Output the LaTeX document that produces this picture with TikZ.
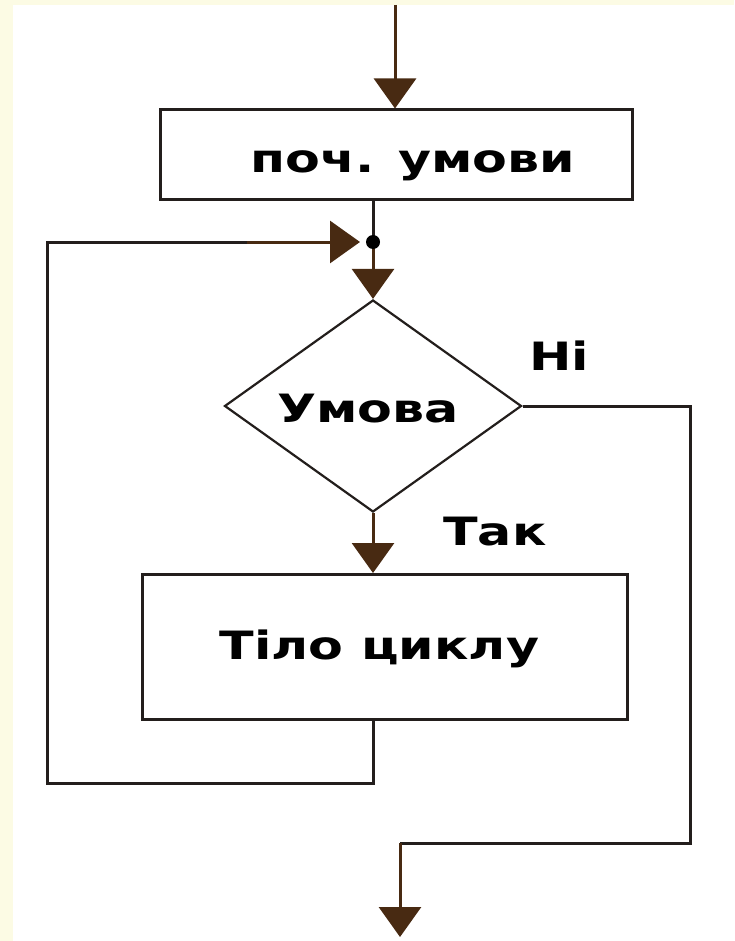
\documentclass[tikz,border=0pt]{standalone}
\usepackage{fontspec}
\newfontfamily\figfont[FakeStretch=1.3]{DejaVu Sans}
\usetikzlibrary{arrows.meta,positioning,shapes.geometric,calc}
\definecolor{figedge}{RGB}{35,30,28}
\definecolor{figarrow}{RGB}{72,42,18}
\definecolor{figpaper}{RGB}{252,251,228}

\begin{document}
\begin{tikzpicture}[x=1pt, y=-1pt,
  font=\figfont\fontsize{39}{44}\selectfont\bfseries,
  box/.style={draw=figedge, line width=3pt, minimum width=472pt,
    minimum height=90pt, inner sep=0pt, text depth=0pt},
  cond/.style={diamond, draw=figedge, line width=2.2pt, aspect=1.43,
    minimum width=297pt, minimum height=212pt, inner sep=0pt},
  lbl/.style={anchor=base, inner sep=0pt},
  arr/.style={-{Triangle[width=42pt,length=30pt]}, figarrow, line width=3pt},
  wire/.style={figedge, line width=3pt}]
  % page and paper strips
  \fill[white] (0,0) rectangle (734,941);
  \fill[figpaper] (0,0) rectangle (734,5);
  \fill[figpaper] (0,0) rectangle (13,941);
  \useasboundingbox (0,0) rectangle (734,941);

  \coordinate (in) at (395,5);
  \node[box, text height=36pt] (init) at (396,155) {\hspace*{34pt}поч. умови};
  \coordinate (join) at (373,242);
  \node[cond] (test) at (373,406) {};
  \node[lbl] (testlbl) at (368,422) {Умова};
  \node[box, minimum width=485pt, minimum height=145pt, text height=25pt]
    (body) at (385,647) {Тіло циклу\hspace*{11pt}};
  \node[lbl] (no) at (559,370) {Ні};
  \node[lbl] (yes) at (495,545) {Так};
  \coordinate (back) at (47,783);
  \coordinate (exitr) at (690,843);
  \coordinate (out) at (400,937);

  % main flow
  \draw[arr] (in) -- (in |- init.north);
  \draw[wire] (join |- init.south) -- (join);
  \draw[arr] (join) -- (test.north);
  \draw[arr] (test.south) -- (test.south |- body.north);
  % loop back to the condition
  \draw[wire] (body.south -| join) -- (join |- back) -- (back) -- (back |- join) -- ++(250,0);
  \draw[arr] ($(back |- join)+(200,0)$) -- ($(join)+(-13,0)$);
  \fill[black] (join) circle (7pt);
  % exit branch
  \draw[wire] (test.east) -- (test.east -| exitr) -- (exitr) -- (exitr -| out);
  \draw[arr] (exitr -| out) -- (out);
\end{tikzpicture}
\end{document}
